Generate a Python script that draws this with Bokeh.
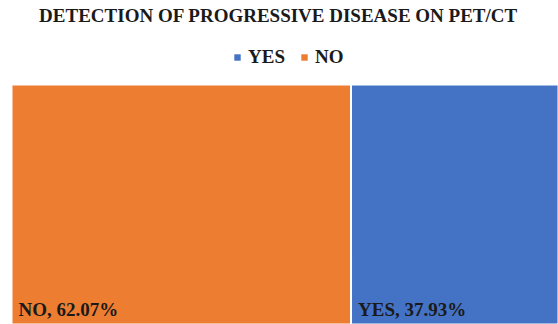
from bokeh.plotting import figure
from bokeh.models import Range1d, ColumnDataSource, Legend, LegendItem, Label
from bokeh.core.properties import value
from bokeh.embed import file_html
from bokeh.resources import INLINE

# Share of patients, treemap order (largest first)
categories = ["NO", "YES"]
shares = [62.07, 37.93]
colors = {"YES": "#4472C4", "NO": "#ED7D31"}
legend_order = ["YES", "NO"]
title_text = "DETECTION OF PROGRESSIVE DISEASE ON PET/CT"

FONT = "Liberation Serif"
FONT_CSS = "'Liberation Serif', serif"

# Slice-and-dice layout: one row, widths proportional to share
lefts, rights = [], []
acc = 0.0
for s in shares:
    lefts.append(acc)
    acc += s
    rights.append(acc)
total = acc

src = ColumnDataSource(dict(
    cat=categories,
    left=lefts,
    right=rights,
    bottom=[0] * len(categories),
    top=[100] * len(categories),
    color=[colors[c] for c in categories],
    label=[f"{c}, {s:.2f}%" for c, s in zip(categories, shares)],
))

W, H = 558, 324
p = figure(width=W, height=H, output_backend="svg", toolbar_location=None,
           x_range=Range1d(-total * 11 / 547, total), y_range=Range1d(0, 135),
           min_border=0, outline_line_color=None)
p.axis.visible = False
p.grid.visible = False

tiles = p.quad(left="left", right="right", bottom="bottom", top="top",
               fill_color="color", line_color="white", line_width=2, source=src)

p.text(x="left", y="bottom", text="label", source=src,
       x_offset=7, y_offset=-5, text_baseline="bottom", text_align="left",
       text_font=value(FONT), text_font_style="bold", text_font_size="19px",
       text_color="#1a1a1a")

p.add_layout(Label(x=W / 2 - 1, y=H - 14.5, x_units="screen", y_units="screen",
                   text=title_text, text_align="center", text_baseline="middle",
                   text_font=FONT_CSS, text_font_style="bold", text_font_size="19px",
                   text_color="#1a1a1a"))

# Legend built from proxy renderers so the order reads YES, NO
items = []
for c in legend_order:
    r = p.quad(left=[0], right=[0], bottom=[0], top=[0],
               fill_color=colors[c], line_color=None)
    items.append(LegendItem(label=c, renderers=[r]))

leg = Legend(items=items, orientation="horizontal", location=(233, 256),
             glyph_width=8, glyph_height=8, label_text_font=FONT_CSS,
             label_text_font_style="bold", label_text_font_size="19px",
             label_text_color="#1a1a1a", border_line_color=None,
             background_fill_alpha=0, padding=0, margin=0, spacing=15,
             label_standoff=7)
p.add_layout(leg)

open("out.html", "w").write(file_html(p, INLINE))
